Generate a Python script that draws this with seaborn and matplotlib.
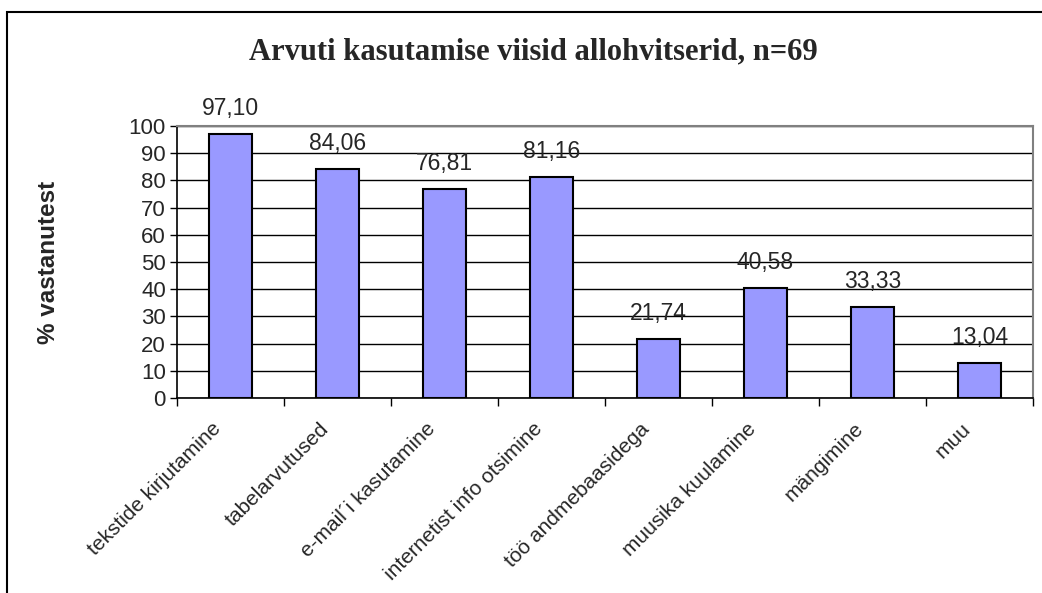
import matplotlib
matplotlib.use("Agg")
import matplotlib.pyplot as plt
import seaborn as sns
import pandas as pd
import numpy as np
from matplotlib.patches import Rectangle
from matplotlib.transforms import ScaledTranslation

categories = ["tekstide kirjutamine", "tabelarvutused", "e-mail´i kasutamine",
              "internetist info otsimine", "töö andmebaasidega", "muusika kuulamine",
              "mängimine", "muu"]
values = [97.10, 84.06, 76.81, 81.16, 21.74, 40.58, 33.33, 13.04]
yticks = list(range(0, 101, 10))

sns.set_theme(style="white")
plt.rcParams['font.family'] = ['Liberation Sans', 'DejaVu Sans']

df = pd.DataFrame({"cat": categories, "val": values})

fig = plt.figure(figsize=(10.42, 5.93), dpi=100)
ax = fig.add_axes([177/1042, 1-398/593, (1033-177)/1042, (398-126)/593])

sns.barplot(data=df, x="cat", y="val", ax=ax, color="#9999FF", width=0.41,
            edgecolor="black", linewidth=1.5, saturation=1, zorder=3)

ax.set_ylim(0, 100)
ax.set_xlim(-0.5, len(categories) - 0.5)
ax.set_yticks(yticks)
ax.set_yticklabels([str(t) for t in yticks], fontsize=16)
ax.grid(axis="y", color="black", linewidth=1, zorder=0)
ax.set_axisbelow(True)

ax.set_xticks(range(len(categories)))
ax.set_xticklabels(categories, rotation=45, ha="right", va="center",
                   rotation_mode="anchor", fontsize=15)
ax.set_xticks(np.arange(-0.5, len(categories), 1.0), minor=True)
ax.tick_params(axis="x", which="major", length=0, pad=20)
ax.tick_params(axis="x", which="minor", length=6, width=1, color="black", direction="out", bottom=True)
ax.tick_params(axis="y", length=5, width=1, color="black", direction="out", left=True, pad=3)
for lab in ax.get_xticklabels():
    lab.set_transform(lab.get_transform() + ScaledTranslation(-0.12, 0, fig.dpi_scale_trans))

for s in ["left", "bottom"]:
    ax.spines[s].set_color("black")
    ax.spines[s].set_linewidth(1.2)
for s in ["top", "right"]:
    ax.spines[s].set_color("#808080")
    ax.spines[s].set_linewidth(1.5)

labels = [f"{v:.2f}".replace(".", ",") for v in values]
ax.bar_label(ax.containers[0], labels=labels, padding=10, fontsize=16.5)

ax.set_xlabel("")
ax.set_ylabel("% vastanutest", fontsize=17.5, fontweight="bold")
ax.yaxis.set_label_coords(-0.137, 0.5)

fig.text(533/1042, 1-52/593, "Arvuti kasutamise viisid allohvitserid, n=69",
         family=["Liberation Serif", "DejaVu Serif"], fontweight="bold", fontsize=22,
         ha="center", va="center")

fig.patches.append(Rectangle((7/1042, -0.1), 1.2, 1-12/593 + 0.1, transform=fig.transFigure,
                             fill=False, edgecolor="black", linewidth=1.5))

fig.savefig("out.png", dpi=100)
